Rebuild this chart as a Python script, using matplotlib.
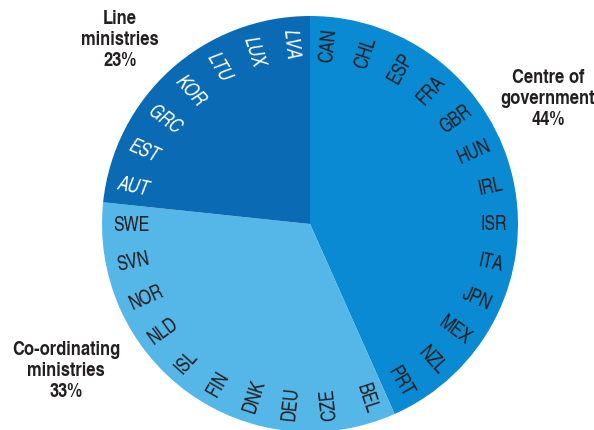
import numpy as np
import matplotlib.pyplot as plt
from matplotlib import font_manager
from matplotlib.font_manager import FontProperties

groups = ["Centre of\ngovernment\n44%", "Co-ordinating\nministries\n33%", "Line\nministries\n23%"]
centre = ["CAN", "CHL", "ESP", "FRA", "GBR", "HUN", "IRL", "ISR", "ITA", "JPN", "MEX", "NZL", "PRT"]
coord = ["BEL", "CZE", "DEU", "DNK", "FIN", "ISL", "NLD", "NOR", "SVN", "SWE"]
line = ["AUT", "EST", "GRC", "KOR", "LTU", "LUX", "LVA"]
colors = ["#0a8ad2", "#55b6e8", "#0a6ab4"]


def font(fn, size):
    for f in font_manager.fontManager.ttflist:
        if f.fname.endswith(fn):
            return FontProperties(fname=f.fname, size=size)
    return FontProperties(family="DejaVu Sans", size=size * 0.85)


reg = font("texgyreheroscn-regular.otf", 14)
ita = font("texgyreheroscn-italic.otf", 14)
bold = font("texgyreheroscn-bold.otf", 14.5)

fig = plt.figure(figsize=(5.94, 4.31), dpi=100)
ax = fig.add_axes([0, 0, 1, 1])
cx, cy, R = 310, 206, 208

sizes = [len(centre), len(coord), len(line)]
ax.pie(sizes, colors=colors, startangle=90, counterclock=False,
       center=(cx, cy), radius=R, wedgeprops=dict(linewidth=0))

countries = centre + coord + line
tcolors = ["#231f20"] * (len(centre) + len(coord)) + ["white"] * len(line)
fonts = [reg] * (len(centre) + len(coord)) + [ita] * len(line)
step = 360 / len(countries)
for i, name in enumerate(countries):
    th = 90 - step * (i + 0.5)
    t = np.deg2rad(th)
    x, y = cx + 197 * np.cos(t), cy + 197 * np.sin(t)
    if -80 < th < 90:
        rot, ha = th, "right"
    else:
        rot, ha = th + 180, "left"
    ax.text(x, y, name, rotation=rot, rotation_mode="anchor", ha=ha, va="center",
            color=tcolors[i], fontproperties=fonts[i])

pos = [(548, 431 - 99), (66, 431 - 371), (120, 431 - 40)]
for g, (x, y) in zip(groups, pos):
    ax.text(x, y, g, ha="center", va="center", color="#231f20",
            fontproperties=bold, linespacing=1.2)

ax.set_xlim(0, 594)
ax.set_ylim(0, 431)
ax.set_aspect("equal")
ax.axis("off")
fig.savefig("out.png", dpi=100)
